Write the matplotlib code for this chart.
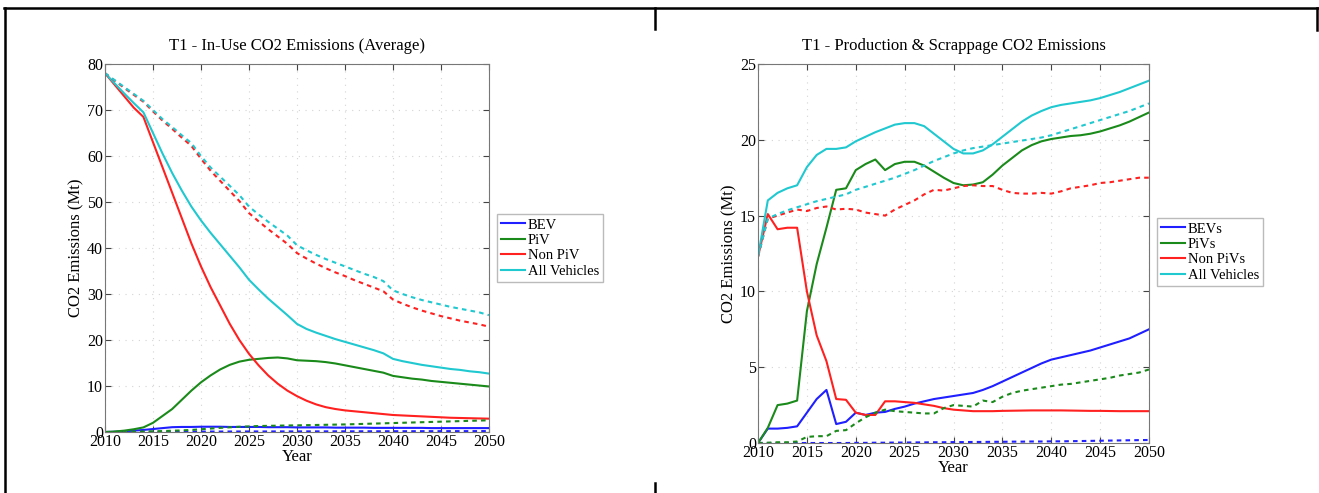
import matplotlib
matplotlib.use("Agg")
import matplotlib.pyplot as plt
from matplotlib.lines import Line2D
import numpy as np

years = list(range(2010, 2051))

# ---- Left chart: In-Use CO2 Emissions (Average) ----
inuse_bev = [0, 0.05, 0.15, 0.3, 0.45, 0.65, 0.85, 1.05, 1.1, 1.1,
             1.15, 1.15, 1.15, 1.1, 1.1, 1.1, 1.1, 1.05, 1.05, 1.05,
             1.0, 1.0, 1.0, 1.0, 0.95, 0.95, 0.95, 0.95, 0.9, 0.9,
             0.9, 0.9, 0.9, 0.9, 0.85, 0.85, 0.85, 0.85, 0.85, 0.85, 0.85]
inuse_piv = [0, 0.1, 0.3, 0.6, 1.0, 2.0, 3.5, 5.0, 7.0, 9.0,
             10.8, 12.3, 13.6, 14.6, 15.3, 15.7, 15.9, 16.1, 16.2, 16.0,
             15.6, 15.5, 15.4, 15.2, 14.9, 14.5, 14.1, 13.7, 13.3, 12.9,
             12.2, 11.9, 11.6, 11.4, 11.1, 10.9, 10.7, 10.5, 10.3, 10.1, 9.9]
inuse_nonpiv = [78, 75.5, 73, 70.5, 68.5, 63, 57.5, 52, 46.5, 41,
                36, 31.5, 27.5, 23.5, 20, 17, 14.5, 12.3, 10.5, 9.0,
                7.8, 6.8, 6.0, 5.4, 5.0, 4.7, 4.5, 4.3, 4.1, 3.9,
                3.7, 3.6, 3.5, 3.4, 3.3, 3.2, 3.1, 3.05, 3.0, 2.95, 2.9]
inuse_all = [78, 75.8, 73.6, 71.5, 69.5, 65, 60.5, 56.3, 52.5, 49,
             46, 43.3, 40.8, 38.3, 35.8, 33.1, 31, 29, 27.2, 25.4,
             23.5, 22.4, 21.6, 20.9, 20.2, 19.6, 19.0, 18.4, 17.8, 17.1,
             15.9, 15.4, 15.0, 14.6, 14.3, 14.0, 13.7, 13.5, 13.2, 13.0, 12.7]
inuse_bev_d = [0, 0, 0.01, 0.02, 0.03, 0.04, 0.05, 0.06, 0.07, 0.08,
               0.09, 0.1, 0.1, 0.11, 0.11, 0.12, 0.12, 0.12, 0.13, 0.13,
               0.13, 0.14, 0.14, 0.14, 0.15, 0.15, 0.15, 0.16, 0.16, 0.16,
               0.17, 0.17, 0.17, 0.18, 0.18, 0.18, 0.19, 0.19, 0.19, 0.2, 0.2]
inuse_piv_d = [0, 0.02, 0.05, 0.08, 0.1, 0.15, 0.2, 0.28, 0.35, 0.45,
               0.6, 0.75, 0.9, 1.02, 1.15, 1.22, 1.3, 1.34, 1.38, 1.42,
               1.45, 1.49, 1.53, 1.57, 1.61, 1.65, 1.71, 1.77, 1.83, 1.89,
               1.95, 2.01, 2.07, 2.13, 2.19, 2.25, 2.31, 2.37, 2.43, 2.49, 2.55]
inuse_nonpiv_d = [78, 76.4, 74.8, 73.3, 71.8, 69.7, 67.7, 65.9, 64, 62.2,
                  59.4, 56.8, 54.6, 52.4, 50.2, 47.6, 45.8, 44.1, 42.5, 40.9,
                  38.9, 37.7, 36.6, 35.6, 34.7, 33.9, 33.0, 32.2, 31.4, 30.6,
                  28.8, 27.9, 27.1, 26.4, 25.8, 25.2, 24.7, 24.2, 23.8, 23.4, 22.9]
inuse_all_d = [78, 76.5, 75, 73.5, 72, 70, 68, 66.3, 64.5, 62.8,
               60, 57.5, 55.5, 53.5, 51.5, 49, 47.3, 45.7, 44.2, 42.7,
               40.6, 39.5, 38.5, 37.6, 36.8, 36.0, 35.2, 34.4, 33.7, 32.8,
               30.8, 30.0, 29.3, 28.7, 28.2, 27.7, 27.2, 26.8, 26.4, 26.0, 25.4]

# ---- Right chart: Production & Scrappage CO2 Emissions ----
prod_bev = [0, 0.95, 0.95, 1.0, 1.1, 2.0, 2.9, 3.5, 1.25, 1.4,
            2.0, 1.85, 2.0, 2.05, 2.25, 2.4, 2.6, 2.75, 2.9, 3.0,
            3.1, 3.2, 3.3, 3.5, 3.75, 4.05, 4.35, 4.65, 4.95, 5.25,
            5.5, 5.65, 5.8, 5.95, 6.1, 6.3, 6.5, 6.7, 6.9, 7.2, 7.5]
prod_piv = [0, 1.0, 2.5, 2.6, 2.8, 8.7, 11.8, 14.2, 16.7, 16.8,
            18.0, 18.4, 18.7, 18.0, 18.4, 18.55, 18.55, 18.3, 17.9, 17.5,
            17.15, 17.0, 17.05, 17.2, 17.7, 18.3, 18.8, 19.3, 19.65, 19.9,
            20.05, 20.15, 20.25, 20.3, 20.4, 20.55, 20.75, 20.95, 21.2, 21.5, 21.8]
prod_nonpiv = [12.3, 15.1, 14.1, 14.2, 14.2, 10.0, 7.1, 5.4, 2.9, 2.85,
               2.0, 1.85, 1.85, 2.75, 2.75, 2.7, 2.65, 2.55, 2.45, 2.3,
               2.2, 2.15, 2.1, 2.1, 2.1, 2.12, 2.13, 2.14, 2.15, 2.15,
               2.15, 2.15, 2.14, 2.13, 2.12, 2.12, 2.11, 2.1, 2.1, 2.1, 2.1]
prod_all = [12.3, 16.0, 16.5, 16.8, 17.0, 18.2, 19.0, 19.4, 19.4, 19.5,
            19.9, 20.2, 20.5, 20.75, 21.0, 21.1, 21.1, 20.9, 20.4, 19.9,
            19.4, 19.1, 19.1, 19.3, 19.7, 20.2, 20.7, 21.2, 21.6, 21.9,
            22.15, 22.3, 22.4, 22.5, 22.6, 22.75, 22.95, 23.15, 23.4, 23.65, 23.9]
prod_bev_d = [0, 0, 0, 0, 0, 0, 0, 0, 0, 0,
              0.01, 0.01, 0.02, 0.02, 0.03, 0.03, 0.04, 0.04, 0.05, 0.05,
              0.06, 0.06, 0.07, 0.07, 0.08, 0.08, 0.09, 0.09, 0.1, 0.1,
              0.11, 0.11, 0.12, 0.13, 0.14, 0.15, 0.16, 0.17, 0.18, 0.19, 0.2]
prod_piv_d = [0, 0.02, 0.05, 0.05, 0.1, 0.4, 0.45, 0.45, 0.8, 0.85,
              1.3, 1.7, 2.0, 2.2, 2.1, 2.05, 2.0, 1.95, 1.95, 2.3,
              2.5, 2.45, 2.4, 2.8, 2.7, 3.05, 3.3, 3.45, 3.55, 3.65,
              3.75, 3.85, 3.9, 4.0, 4.1, 4.2, 4.3, 4.45, 4.55, 4.65, 4.85]
prod_nonpiv_d = [12.3, 14.8, 15.0, 15.2, 15.4, 15.3, 15.5, 15.6, 15.4, 15.45,
                 15.4, 15.2, 15.1, 15.0, 15.4, 15.7, 16.0, 16.4, 16.7, 16.65,
                 16.8, 16.95, 17.0, 16.95, 16.95, 16.7, 16.5, 16.45, 16.45, 16.5,
                 16.45, 16.6, 16.8, 16.9, 17.0, 17.15, 17.2, 17.3, 17.4, 17.5, 17.5]
prod_all_d = [12.3, 14.8, 15.1, 15.35, 15.55, 15.75, 15.95, 16.1, 16.25, 16.4,
              16.7, 16.9, 17.1, 17.3, 17.5, 17.75, 18.0, 18.3, 18.6, 18.85,
              19.1, 19.3, 19.45, 19.55, 19.65, 19.75, 19.85, 19.95, 20.05, 20.15,
              20.3, 20.5, 20.7, 20.9, 21.1, 21.3, 21.5, 21.7, 21.9, 22.15, 22.4]

left_labels = ["BEV", "PiV", "Non PiV", "All Vehicles"]
right_labels = ["BEVs", "PiVs", "Non PiVs", "All Vehicles"]
colors = ["#1f1fff", "#1a8a1a", "#ff2020", "#20c8d0"]

plt.rcParams['font.family'] = ['Liberation Serif', 'DejaVu Serif']

fig = plt.figure(figsize=(13.19, 4.93), dpi=100)
ax1 = fig.add_axes([0.0796, 0.1237, 0.2911, 0.7465])
ax2 = fig.add_axes([0.5747, 0.1014, 0.2964, 0.7688])


def draw(ax, solids, dashes, labels, ymax, ystep, title, leg_anchor):
    handles = []
    for s, c, lab in zip(solids, colors, labels):
        h, = ax.plot(years, s, color=c, lw=1.5, label=lab)
        handles.append(h)
    for d, c in zip(dashes, colors):
        ax.plot(years, d, color=c, lw=1.5, ls=(0, (2.2, 2.0)))
    ax.set_xlim(2010, 2050)
    ax.set_ylim(0, ymax)
    ax.set_xticks(range(2010, 2051, 5))
    ax.set_yticks(np.arange(0, ymax + 0.1, ystep))
    ax.tick_params(direction='in', top=True, right=True, labelsize=11.5,
                   length=4, color='#444444', pad=1.5)
    ax.grid(True, ls=(0, (1, 5)), color='#d4d4d4', lw=0.8)
    for sp in ax.spines.values():
        sp.set_color('#777777')
    ax.set_title(title, fontsize=12, pad=10)
    ax.set_xlabel("Year", fontsize=12, labelpad=-1)
    ax.set_ylabel("CO2 Emissions (Mt)", fontsize=12, labelpad=2)
    leg = fig.legend(handles=handles, loc='upper left', bbox_to_anchor=leg_anchor,
                     fontsize=10.5, frameon=True, fancybox=False, handlelength=1.65,
                     handletextpad=0.15, borderpad=0.3, labelspacing=0.15,
                     borderaxespad=0)
    leg.get_frame().set_edgecolor('#aaaaaa')
    leg.get_frame().set_linewidth(1.0)


draw(ax1, [inuse_bev, inuse_piv, inuse_nonpiv, inuse_all],
     [inuse_bev_d, inuse_piv_d, inuse_nonpiv_d, inuse_all_d],
     left_labels, 80, 10, "T1 - In-Use CO2 Emissions (Average)",
     (497 / 1319, 1 - 214 / 493))
draw(ax2, [prod_bev, prod_piv, prod_nonpiv, prod_all],
     [prod_bev_d, prod_piv_d, prod_nonpiv_d, prod_all_d],
     right_labels, 25, 5, "T1 - Production & Scrappage CO2 Emissions",
     (1157 / 1319, 1 - 218 / 493))

# table-like frame lines
W, H = 1319, 493


def fl(x0, y0, x1, y1):
    fig.add_artist(Line2D([x0 / W, x1 / W], [1 - y0 / H, 1 - y1 / H],
                          transform=fig.transFigure, color='black', lw=1.8))


fl(4, 8, 1318, 8)
fl(5, 8, 5, 493)
fl(655, 8, 655, 29)
fl(655, 483, 655, 493)
fl(1317, 8, 1317, 30)

fig.savefig("out.png", dpi=100)
